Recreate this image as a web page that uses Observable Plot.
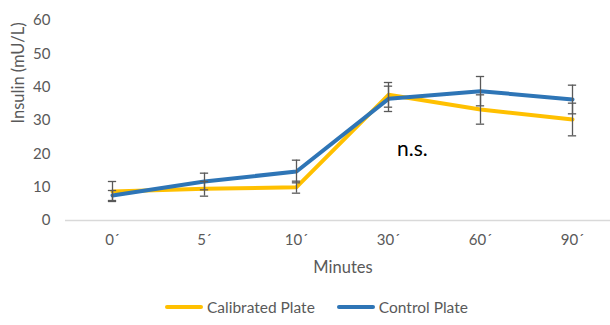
<!DOCTYPE html>
<html><head><meta charset="utf-8">
<script src="https://cdn.jsdelivr.net/npm/d3@7"></script>
<script src="https://cdn.jsdelivr.net/npm/@observablehq/plot@0.6"></script>
<style>
body{margin:0;background:#fff;font-family:Lato,"Open Sans",sans-serif}
#legend{display:flex;justify-content:flex-start;align-items:center;height:30px;margin-top:12px;padding-left:165px;font-size:15.5px;color:#595959}
.item{display:flex;align-items:center;margin-right:22px}
.sw{display:inline-block;width:38px;height:4px;border-radius:2px;margin-right:4px}
</style>
</head><body><div id="chart"></div><div id="legend"></div>
<script>
const minutes = ["0\u00b4","5\u00b4","10\u00b4","30\u00b4","60\u00b4","90\u00b4"];
const calibrated = [8.7, 9.5, 10.0, 37.7, 33.3, 30.3];
const calibratedErr = [3.0, 2.2, 1.8, 3.7, 4.4, 4.9];
const control = [7.5, 11.7, 14.7, 36.5, 38.8, 36.3];
const controlErr = [1.5, 2.5, 3.4, 3.8, 4.4, 4.3];
const yTicks = [0, 10, 20, 30, 40, 50, 60];
const seriesNames = ["Calibrated Plate", "Control Plate"];
const seriesColors = ["#FFC000", "#2E75B6"];
const yTitle = "Insulin (mU/L)";
const xTitle = "Minutes";
const annotation = [{label: "n.s.", at: 3.26, value: 21.5}];

const rows = [];
[calibrated, control].forEach((vals, s) => {
  const errs = s === 0 ? calibratedErr : controlErr;
  vals.forEach((v, i) => rows.push({series: seriesNames[s], i, v, lo: v - errs[i], hi: v + errs[i]}));
});
const cap = 0.045;
const caps = rows.flatMap(d => [{i: d.i, y: d.lo}, {i: d.i, y: d.hi}]);

const chart = Plot.plot({
  width: 610, height: 280,
  marginLeft: 65, marginRight: 0, marginTop: 20, marginBottom: 60,
  style: {fontFamily: "Lato, 'Open Sans', sans-serif", fontSize: "15px", color: "#595959"},
  x: {domain: [-0.5, 5.5], range: [66, 618], ticks: d3.range(minutes.length), tickFormat: i => minutes[i]},
  y: {domain: [0, 60], ticks: yTicks},
  color: {domain: seriesNames, range: seriesColors},
  marks: [
    Plot.ruleY([0], {stroke: "#d9d9d9", strokeWidth: 1.5}),
    Plot.line(rows.filter(d => d.series === seriesNames[0]), {x: "i", y: "v", stroke: "series", strokeWidth: 4}),
    Plot.line(rows.filter(d => d.series === seriesNames[1]), {x: "i", y: "v", stroke: "series", strokeWidth: 4}),
    Plot.ruleX(rows, {x: "i", y1: "lo", y2: "hi", stroke: "#595959", strokeWidth: 1.3}),
    Plot.ruleY(caps, {x1: d => d.i - cap, x2: d => d.i + cap, y: "y", stroke: "#595959", strokeWidth: 1.3}),
    Plot.text(annotation, {x: "at", y: "value", text: "label", fontSize: 21, fill: "#000"}),
    Plot.axisY({ticks: yTicks, tickSize: 0, tickPadding: 15, label: null, fontSize: 15}),
    Plot.text([yTitle], {frameAnchor: "left", rotate: -90, dx: -47, dy: 3, fontSize: 16.5, fill: "#595959"}),
    Plot.axisX({ticks: d3.range(minutes.length), tickFormat: i => minutes[i], tickSize: 0, tickPadding: 14, label: null, fontSize: 15}),
    Plot.text([xTitle], {frameAnchor: "bottom", dx: 5, dy: 52, fontSize: 16.5, fill: "#595959"})
  ]
});
document.getElementById("chart").appendChild(chart);

const legend = document.getElementById("legend");
seriesNames.forEach((n, k) => {
  const it = document.createElement("div");
  it.className = "item";
  it.innerHTML = `<span class="sw" style="background:${seriesColors[k]}"></span><span>${n}</span>`;
  legend.appendChild(it);
});
</script>
</body></html>
